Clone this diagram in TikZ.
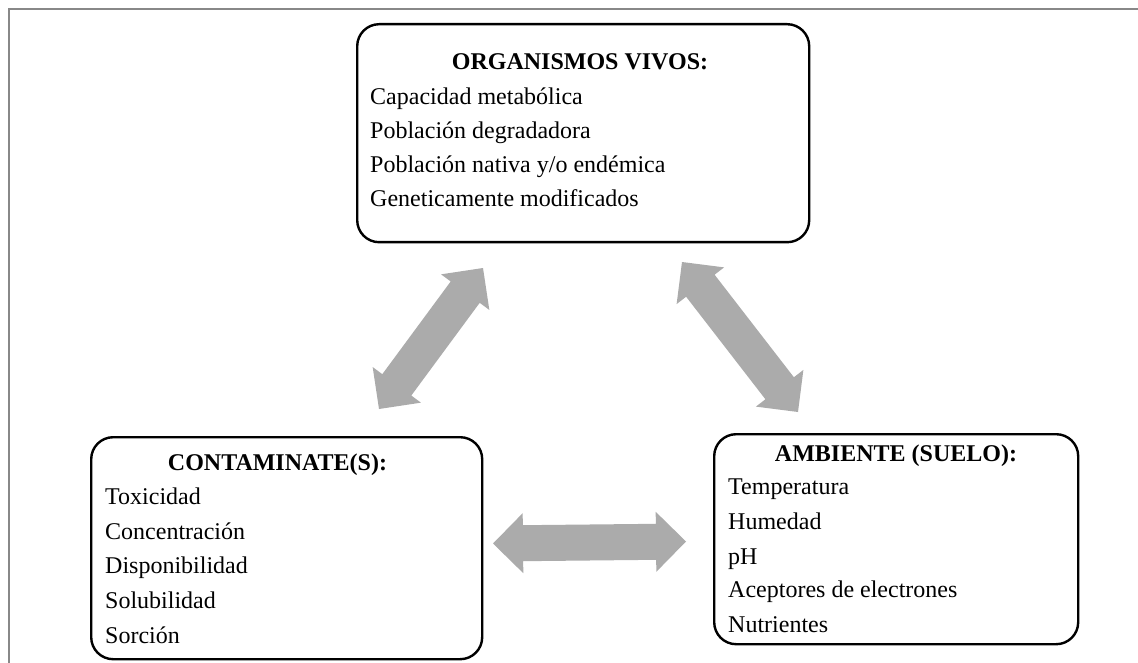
\documentclass[tikz,border=0pt]{standalone}
\usepackage{fontspec}
\setmainfont{Liberation Serif}
\usetikzlibrary{calc}

\definecolor{framegray}{RGB}{136,136,136}
\definecolor{arrowgray}{RGB}{171,171,171}

\tikzset{
  panel/.style={draw=black, line width=2.4pt, rounded corners=22pt,
                rectangle, anchor=north west, inner sep=0pt},
  head/.style={anchor=base, inner sep=0pt,
               font=\fontsize{24}{34}\selectfont\bfseries},
  item/.style={anchor=base west, inner sep=0pt,
               font=\fontsize{24}{34}\selectfont},
  link/.style={fill=arrowgray},
}

% Wide two-headed block arrow between two named points
% (head length 30pt, head half-width 30pt, shaft half-width 18pt)
\newcommand\blockarrow[2]{%
  \fill[link] (#1)
    -- ($(#1)!30pt!(#2)!30pt!90:(#2)$)
    -- ($(#1)!30pt!(#2)!18pt!90:(#2)$)
    -- ($(#2)!30pt!(#1)!18pt!-90:(#1)$)
    -- ($(#2)!30pt!(#1)!30pt!-90:(#1)$)
    -- (#2)
    -- ($(#2)!30pt!(#1)!30pt!90:(#1)$)
    -- ($(#2)!30pt!(#1)!18pt!90:(#1)$)
    -- ($(#1)!30pt!(#2)!18pt!-90:(#2)$)
    -- ($(#1)!30pt!(#2)!30pt!-90:(#2)$)
    -- cycle;}

\begin{document}
\begin{tikzpicture}[x=1pt, y=-1pt]
  \useasboundingbox (0,0) rectangle (1138,663);
  \fill[white] (0,0) rectangle (1138,663);

  % outer frame
  \draw[framegray, line width=2pt] (8.5,663) -- (8.5,9.5) -- (1138,9.5);

  % panels
  \node[panel, minimum width=452pt, minimum height=218pt] (org) at (356,23) {};
  \node[panel, minimum width=391pt, minimum height=222pt] (cont) at (90,436) {};
  \node[panel, minimum width=364pt, minimum height=210pt] (amb) at (713,433) {};

  % living organisms
  \node[head] (orgT) at (580,70) {ORGANISMOS VIVOS:};
  \node[item] (org1) at (370,105) {Capacidad metabólica};
  \node[item] (org2) at (370,139) {Población degradadora};
  \node[item] (org3) at (370,173) {Población nativa y/o endémica};
  \node[item] (org4) at (370,207) {Geneticamente modificados};

  % contaminants
  \node[head] (contT) at (277.5,470) {CONTAMINATE(S):};
  \node[item] (cont1) at (105,504) {Toxicidad};
  \node[item] (cont2) at (105,539) {Concentración};
  \node[item] (cont3) at (105,573) {Disponibilidad};
  \node[item] (cont4) at (105,608) {Solubilidad};
  \node[item] (cont5) at (105,643) {Sorción};

  % environment
  \node[head] (ambT) at (896,461) {AMBIENTE (SUELO):};
  \node[item] (amb1) at (728,494) {Temperatura};
  \node[item] (amb2) at (728,529) {Humedad};
  \node[item] (amb3) at (728,564) {pH};
  \node[item] (amb4) at (728,597) {Aceptores de electrones};
  \node[item] (amb5) at (728,632) {Nutrientes};

  % arrow end points
  \coordinate (lA) at (379,409);
  \coordinate (lB) at (483,268);
  \coordinate (rA) at (682,262);
  \coordinate (rB) at (798,412);
  \coordinate (hA) at (493,543.5);
  \coordinate (hB) at (686,541.5);

  % interactions
  \blockarrow{lA}{lB}
  \blockarrow{rA}{rB}
  \blockarrow{hA}{hB}
\end{tikzpicture}
\end{document}
